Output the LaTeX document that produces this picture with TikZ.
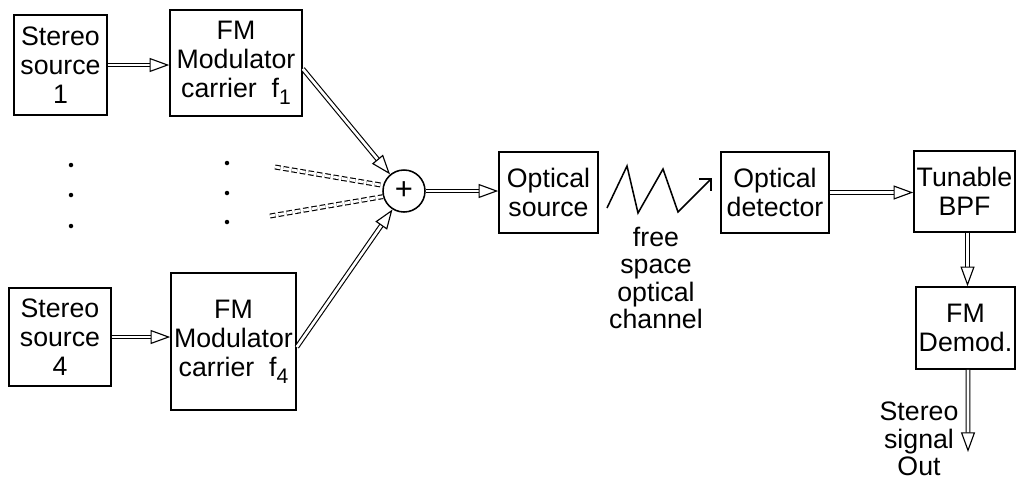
\documentclass[tikz,border=0pt]{standalone}
\usepackage{fontspec}
\setmainfont{Liberation Sans}
\usepackage{tikz}
\usetikzlibrary{calc, arrows.meta, positioning}

\newcommand{\lowsub}[1]{\raisebox{-0.5ex}{\fontsize{15}{15}\selectfont #1}}

\begin{document}
\begin{tikzpicture}[x=0.025cm, y=-0.025cm, >=Stealth,
    box/.style={draw, line width=1.1pt, align=center, inner sep=1pt,
                font=\fontsize{19}{20.5}\selectfont},
    lbl/.style={align=center, inner sep=0pt, font=\fontsize{19}{19.5}\selectfont},
    hollow/.style={double, double distance=1.9pt, line width=0.8pt,
                   -{Triangle[open, length=14pt, width=10pt, line width=0.8pt]}},
    hollowdash/.style={double, double distance=1.9pt, line width=0.8pt,
                       dash pattern=on 4pt off 2pt}]

    \useasboundingbox (0,0) rectangle (1017,483);

    % =================================================================
    % 1. CAC KHOI PHAT (nguon stereo va bo dieu che FM)
    % =================================================================
    \node[box, minimum width=2.325cm, minimum height=2.5cm] (src1) at (60.5,65)
        {Stereo\\source\\1};
    \node[box, minimum width=3.3cm, minimum height=2.65cm] (mod1) at (236,63)
        {FM\\Modulator\\carrier\ \ f\lowsub{1}};
    \node[box, minimum width=2.55cm, minimum height=2.45cm] (src4) at (60,337)
        {Stereo\\source\\4};
    \node[box, minimum width=3.125cm, minimum height=3.425cm] (mod4) at (233.5,341.5)
        {FM\\Modulator\\carrier\ \ f\lowsub{4}};

    % Dau cham bieu dien cac kenh 2, 3
    \foreach \y in {165,195,226} \fill (71,\y) circle (1.6pt);
    \foreach \y in {163,193,222} \fill (227,\y) circle (1.6pt);

    % =================================================================
    % 2. BO CONG VA DUONG TRUYEN QUANG
    % =================================================================
    \node[draw, circle, line width=1.1pt, minimum size=1.05cm, inner sep=0pt,
          font=\fontsize{22}{22}\selectfont] (sum) at (404,191) {+};
    \node[box, minimum width=2.475cm, minimum height=2.025cm] (osrc) at (548.5,192.5)
        {Optical\\source};
    \node[box, minimum width=2.7cm, minimum height=2.025cm] (odet) at (775,192.5)
        {Optical\\detector};
    \node[box, minimum width=2.525cm, minimum height=2.025cm] (bpf) at (964.5,191.5)
        {Tunable\\BPF};
    \node[box, minimum width=2.475cm, minimum height=2.05cm] (demod) at (965.5,328)
        {FM\\Demod.};

    % Nhan kenh va ngo ra
    \node[lbl] (chan) at (656,278) {free\\space\\optical\\channel};
    \node[lbl] (outlbl) at (919,439) {Stereo\\signal\\Out};

    % Cac diem dau tu do
    \coordinate (dashA) at (275,167);
    \coordinate (dashB) at (270,216);
    \coordinate (out) at (968,452);

    % =================================================================
    % 3. CAC MUI TEN NOI
    % =================================================================
    \draw[hollow] (src1) -- (mod1.west |- src1);
    \draw[hollow] (src4) -- (mod4.west |- src4);
    \draw[hollow] (mod1.-5) -- (sum.130);
    \draw[hollow] (mod4.-5) -- (sum.238);
    \draw[hollowdash] (dashA) -- (sum.165);
    \draw[hollowdash] (dashB) -- (sum.195);
    \draw[hollow] (sum) -- (osrc.west |- sum);
    \draw[hollow] (odet.east) -- (odet.east -| bpf.west);
    \draw[hollow] ($(bpf.south)+(3,0)$) -- ($(bpf.south |- demod.north)+(3,0)$);
    \draw[hollow] ($(demod.south)+(2.5,0)$) -- (out);

    % Kenh quang khong gian tu do (zigzag)
    \draw[line width=1.1pt, -{Straight Barb[length=6pt]}]
        (607,208) -- (627,166) -- (638,213) -- (663,169) -- (678,212) -- (712,178);

\end{tikzpicture}
\end{document}
